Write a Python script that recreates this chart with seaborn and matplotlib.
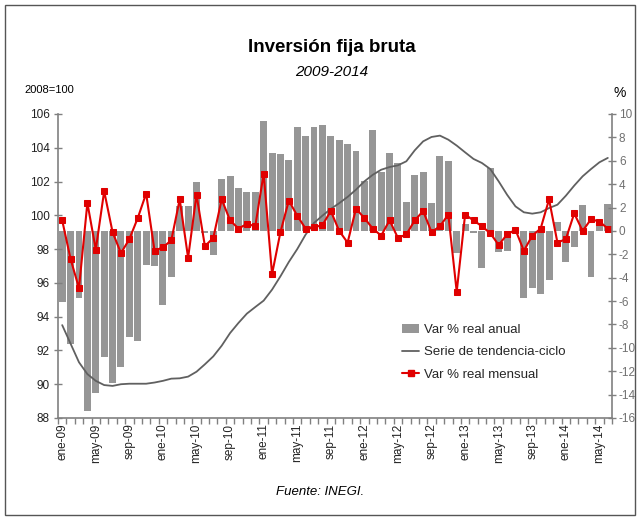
import numpy as np
import pandas as pd
import matplotlib
matplotlib.use("Agg")
import matplotlib.pyplot as plt
import seaborn as sns
from matplotlib.patches import Rectangle, Patch
from matplotlib.lines import Line2D

# -----------------------------------------
# STYLE
# -----------------------------------------
sns.set_style("white")
plt.rcParams["font.family"] = ["Liberation Sans", "DejaVu Sans"]
plt.rcParams["axes.unicode_minus"] = False

GRIS = "#969696"
ROJO = "#e00000"
LINEA = "#606060"
EJE = "#808080"

# -----------------------------------------
# DATA (ene-09 .. jun-14)
# -----------------------------------------
meses = ["ene", "feb", "mar", "abr", "may", "jun",
         "jul", "ago", "sep", "oct", "nov", "dic"]
anios = ["09", "10", "11", "12", "13", "14"]
periodos = [f"{m}-{a}" for a in anios for m in meses][:66]

# Var % real anual (eje derecho)
var_anual = [
    -6.1, -9.7, -5.7, -15.4, -13.9, -10.8, -13.0, -11.6, -9.1, -9.4, -2.9, -3.0,
    -6.3, -3.9, 2.1, 2.1, 4.2, -0.15, -2.1, 4.4, 4.7, 3.7, 3.3, 3.3,
    9.4, 6.7, 6.6, 6.1, 8.9, 8.1, 8.9, 9.1, 8.1, 7.8, 7.4, 6.8,
    4.3, 8.6, 5.0, 6.7, 5.8, 2.5, 4.8, 5.0, 2.4, 6.4, 6.0, -1.9,
    0.6, -0.2, -3.2, 5.4, -1.8, -1.7, -0.1, -5.7, -4.9, -5.4, -4.2, 0.8,
    -2.7, -1.4, 2.2, -3.9, 0.5, 2.3,
]

# Var % real mensual (eje derecho)
var_mensual = [
    0.9, -2.4, -4.9, 2.4, -1.6, 3.4, -0.1, -1.9, -0.7, 1.1, 3.2, -1.7,
    -1.4, -0.8, 2.7, -2.3, 3.1, -1.3, -0.6, 2.7, 0.9, 0.2, 0.6, 0.4,
    4.9, -3.7, -0.1, 2.6, 1.3, 0.2, 0.3, 0.5, 1.7, 0.0, -1.0, 1.9,
    1.1, 0.2, -0.4, 0.9, -0.6, -0.3, 0.9, 1.7, -0.1, 0.4, 1.4, -5.2,
    1.4, 0.9, 0.4, -0.2, -1.2, -0.3, 0.1, -1.7, -0.4, 0.2, 2.7, -1.0,
    -0.7, 1.5, 0.0, 1.0, 0.8, 0.2,
]

# Serie de tendencia-ciclo, 2008=100 (eje izquierdo)
tendencia = [
    93.5, 92.4, 91.3, 90.6, 90.2, 89.95, 89.9, 90.0, 90.03, 90.03, 90.03, 90.1,
    90.2, 90.33, 90.35, 90.45, 90.74, 91.18, 91.65, 92.28, 93.03, 93.63, 94.18, 94.57,
    94.95, 95.6, 96.39, 97.24, 98.0, 98.86, 99.55, 99.98, 100.38, 100.72, 101.09, 101.52,
    102.01, 102.4, 102.7, 102.86, 102.96, 103.2, 103.85, 104.38, 104.64, 104.72, 104.48, 104.13,
    103.73, 103.34, 103.1, 102.74, 102.01, 101.22, 100.53, 100.18, 100.1, 100.18, 100.43, 100.63,
    101.16, 101.76, 102.31, 102.74, 103.14, 103.4,
]

df = pd.DataFrame({
    "pos": np.arange(len(periodos)),
    "periodo": periodos,
    "anual": var_anual,
    "mensual": var_mensual,
    "tendencia": tendencia,
})

# -----------------------------------------
# FIGURE
# -----------------------------------------
fig = plt.figure(figsize=(6.38, 5.2), dpi=100)
fig.patch.set_facecolor("white")

ax = fig.add_axes([58 / 638, 1 - 418 / 520, (612 - 58) / 638, (418 - 114) / 520])
axb = ax.twinx()   # barras (eje derecho)
axr = ax.twinx()   # linea mensual (eje derecho)

ax.set_zorder(2)
axb.set_zorder(1)
axr.set_zorder(3)
ax.patch.set_visible(False)
axb.patch.set_visible(False)
axr.patch.set_visible(False)

sns.barplot(data=df, x="pos", y="anual", ax=axb, color=GRIS, saturation=1,
            width=0.83, native_scale=True, linewidth=0)
sns.lineplot(data=df, x="pos", y="tendencia", ax=ax, color=LINEA, linewidth=1.3)
sns.lineplot(data=df, x="pos", y="mensual", ax=axr, color=ROJO, linewidth=1.5,
             marker="s", markersize=4.5, markeredgecolor=ROJO)

for a in (ax, axb, axr):
    a.set_xlim(-0.5, len(periodos) - 0.5)
    a.set_xlabel("")
    a.set_ylabel("")
    for s in a.spines.values():
        s.set_visible(False)

ax.set_ylim(88, 106)
axb.set_ylim(-16, 10)
axr.set_ylim(-16, 10)

# eje izquierdo
ax.set_yticks(np.arange(88, 107, 2))
ax.tick_params(axis="y", which="major", direction="inout", length=6, width=1,
               color=EJE, labelsize=8.5, labelcolor="#222222", pad=3, left=True)
ax.spines["left"].set_visible(True)
ax.spines["bottom"].set_visible(True)
ax.spines["left"].set_color(EJE)
ax.spines["bottom"].set_color(EJE)
ax.spines["left"].set_linewidth(1.2)
ax.spines["bottom"].set_linewidth(1.2)

# eje x
ax.set_xticks(df["pos"][::4])
ax.set_xticklabels(df["periodo"][::4], rotation=90)
ax.set_xticks(np.arange(-0.5, len(periodos), 1), minor=True)
ax.tick_params(axis="x", which="major", length=0, labelsize=8.5,
               labelcolor="#222222", pad=4, bottom=True)
ax.tick_params(axis="x", which="minor", length=4, width=1, color=EJE,
               direction="out", bottom=True)

# eje derecho
axb.set_yticks([])
axb.tick_params(axis="y", right=False, labelright=False)
axr.set_yticks(np.arange(-16, 11, 2))
axr.tick_params(axis="y", which="major", direction="inout", length=6, width=1,
                color=EJE, labelsize=8.5, labelcolor="#707070", pad=2, right=True)
axr.spines["right"].set_visible(True)
axr.spines["right"].set_color(EJE)
axr.spines["right"].set_linewidth(1.2)

# -----------------------------------------
# TEXTS
# -----------------------------------------
fig.text(332 / 638, 1 - 48 / 520, "Inversión fija bruta", ha="center", va="center",
         fontsize=13.5, fontweight="bold", color="black")
fig.text(332 / 638, 1 - 72 / 520, "2009-2014", ha="center", va="center",
         fontsize=11, fontstyle="italic", color="black")
fig.text(49 / 638, 1 - 90 / 520, "2008=100", ha="center", va="center",
         fontsize=8, color="black")
fig.text(620 / 638, 1 - 93 / 520, "%", ha="center", va="center",
         fontsize=10, color="black")
fig.text(320 / 638, 1 - 492 / 520, "Fuente: INEGI.", ha="center", va="center",
         fontsize=9.5, fontstyle="italic", color="black")

# -----------------------------------------
# LEGEND
# -----------------------------------------
handles = [
    Patch(facecolor=GRIS, edgecolor="none"),
    Line2D([], [], color=LINEA, linewidth=1.3),
    Line2D([], [], color=ROJO, linewidth=1.5, marker="s", markersize=4.5),
]
labels = ["Var % real anual", "Serie de tendencia-ciclo", "Var % real mensual"]
fig.legend(handles, labels, loc="upper left",
           bbox_to_anchor=(402 / 638, 1 - 324 / 520), frameon=False,
           fontsize=9.5, handlelength=1.3, handletextpad=0.35,
           labelspacing=0.75, borderaxespad=0, borderpad=0)

# marco exterior
fig.patches.append(Rectangle((5 / 638, 5 / 520), 630 / 638, 510 / 520,
                             transform=fig.transFigure, fill=False,
                             edgecolor="#555555", linewidth=1))

fig.savefig("out.png", dpi=100)
plt.close(fig)
